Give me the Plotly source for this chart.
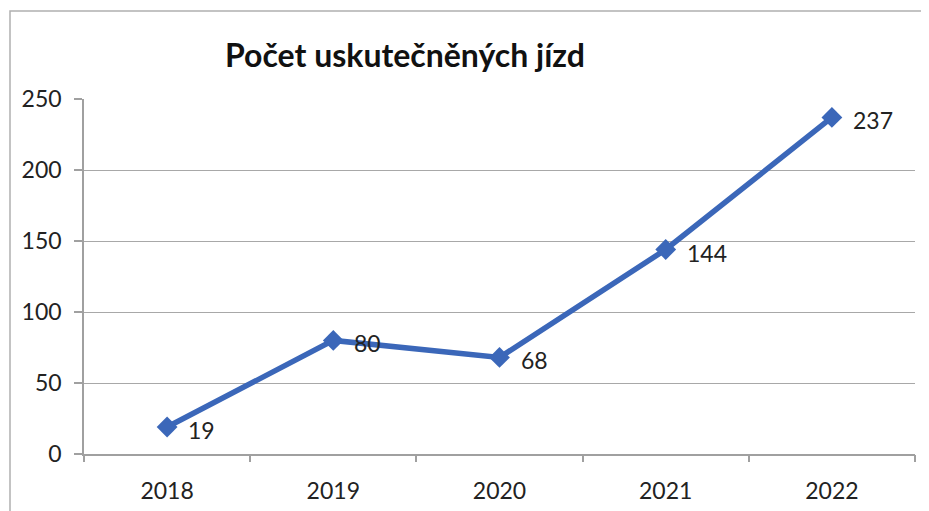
import plotly.graph_objects as go

years = ["2018", "2019", "2020", "2021", "2022"]
rides = [19, 80, 68, 144, 237]
y_ticks = [0, 50, 100, 150, 200, 250]
title_text = "Počet uskutečněných jízd"

blue = "#3B67B9"
font_family = "Lato, 'Open Sans', sans-serif"

# page body has an 8px offset; compensate in margins
OFF = 8
W, H = 929, 511
plot_l, plot_r, plot_t, plot_b = 84 - OFF, 915 - OFF, 99 - OFF, 454 - OFF

fig = go.Figure()
fig.add_trace(go.Scatter(
    x=list(range(len(years))), y=rides, mode="lines+markers",
    line=dict(color=blue, width=5.5),
    marker=dict(symbol="diamond", size=16, color=blue),
    hoverinfo="skip", showlegend=False,
))
for i, v in enumerate(rides):
    fig.add_annotation(x=i, y=v, text=str(v), showarrow=False,
                       xanchor="left", yanchor="middle", xshift=19, yshift=-3,
                       font=dict(size=23, color="#222222", family=font_family))

pw = plot_r - plot_l
ph = plot_b - plot_t
fig.update_layout(
    width=W, height=H,
    margin=dict(l=plot_l, r=W - plot_r, t=plot_t, b=H - plot_b),
    paper_bgcolor="white", plot_bgcolor="white",
    title=dict(text="<b>" + title_text + "</b>", x=(405 - OFF) / W, xanchor="center",
               y=1 - (56 - OFF) / H, yanchor="middle",
               font=dict(size=32, color="#111111", family=font_family)),
    xaxis=dict(range=[-0.5, 4.5], tickmode="array",
               tickvals=list(range(len(years))), ticktext=years,
               ticks="", showline=True, linecolor="#a0a0a0", linewidth=1.5,
               showgrid=False, zeroline=False, ticklabelstandoff=16,
               tickfont=dict(size=23, color="#222222", family=font_family)),
    xaxis2=dict(range=[-0.5, 4.5], overlaying="x", tickmode="array",
                tickvals=[-0.5, 0.5, 1.5, 2.5, 3.5, 4.5], ticktext=[""] * 6,
                ticks="outside", ticklen=7, tickcolor="#a0a0a0", tickwidth=1.5,
                showgrid=False, zeroline=False, side="bottom", anchor="y"),
    yaxis=dict(range=[0, 250], tickvals=y_ticks, ticks="outside", ticklen=8,
               tickcolor="#a0a0a0", tickwidth=1.5, showline=True, linecolor="#a0a0a0",
               linewidth=1.5, gridcolor="#a8a8a8", gridwidth=1.2,
               zeroline=False, ticklabelstandoff=8,
               tickfont=dict(size=23, color="#222222", family=font_family)),
)
# dummy invisible trace so xaxis2 is drawn
fig.add_trace(go.Scatter(x=[-0.5], y=[None], xaxis="x2", yaxis="y",
                         showlegend=False, hoverinfo="skip"))
# chart frame
fig.add_shape(type="rect", xref="paper", yref="paper",
              x0=(10 - OFF - plot_l) / pw, x1=(940 - OFF - plot_l) / pw,
              y0=-(530 - OFF - plot_b) / ph, y1=1 + (plot_t - (11 - OFF)) / ph,
              line=dict(color="#b0b0b0", width=1.5), layer="below")
fig.write_html("out.html")
